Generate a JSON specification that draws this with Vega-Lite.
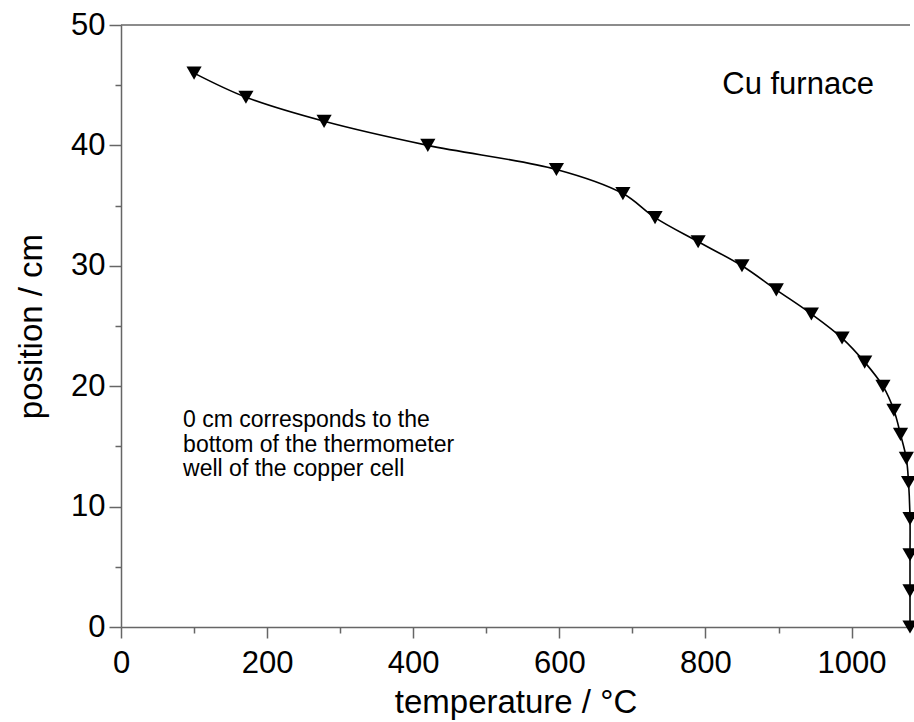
{
  "$schema": "https://vega.github.io/schema/vega-lite/v6.json",
  "width": 789,
  "height": 602,
  "autosize": {"type": "none"},
  "padding": {"left": 121, "top": 25, "right": 4, "bottom": 95},
  "background": "white",
  "config": {
    "view": {"stroke": null},
    "font": "Liberation Sans",
    "axis": {
      "grid": false,
      "domainColor": "#666666",
      "tickColor": "#666666",
      "domainWidth": 1.5,
      "tickWidth": 1.5,
      "labelColor": "black",
      "labelFont": "Liberation Sans",
      "labelFontSize": 31,
      "titleFont": "Liberation Sans",
      "titleFontSize": 33,
      "titleFontWeight": "normal",
      "titleColor": "black",
      "labelFlush": false,
      "labelOverlap": false
    }
  },
  "datasets": {
    "profile": [
      {"temperature": 100, "position": 46},
      {"temperature": 171, "position": 44},
      {"temperature": 278, "position": 42},
      {"temperature": 420, "position": 40},
      {"temperature": 596, "position": 38},
      {"temperature": 687, "position": 36},
      {"temperature": 731, "position": 34},
      {"temperature": 790, "position": 32},
      {"temperature": 850, "position": 30},
      {"temperature": 897, "position": 28},
      {"temperature": 945, "position": 26},
      {"temperature": 987, "position": 24},
      {"temperature": 1018, "position": 22},
      {"temperature": 1043, "position": 20},
      {"temperature": 1058, "position": 18},
      {"temperature": 1067, "position": 16},
      {"temperature": 1075, "position": 14},
      {"temperature": 1078, "position": 12},
      {"temperature": 1080, "position": 9},
      {"temperature": 1080, "position": 6},
      {"temperature": 1080, "position": 3},
      {"temperature": 1080, "position": 0}
    ],
    "notes": [
      {"temperature": 823, "position": 44.3, "label": ["Cu furnace"], "kind": "big"},
      {"temperature": 85, "position": 16.6, "label": ["0 cm corresponds to the", "bottom of the thermometer", "well of the copper cell"], "kind": "small"}
    ],
    "frame": [{"position": 50}]
  },
  "layer": [
    {
      "data": {"name": "frame"},
      "mark": {"type": "rule", "color": "#666666", "strokeWidth": 1.5},
      "encoding": {
        "y": {"field": "position", "type": "quantitative"}
      }
    },
    {
      "data": {"name": "profile"},
      "mark": {"type": "line", "interpolate": "catmull-rom", "color": "black", "strokeWidth": 1.6},
      "encoding": {
        "x": {
          "field": "temperature", "type": "quantitative",
          "scale": {"domain": [0, 1080], "nice": false, "zero": false},
          "axis": {
            "title": "temperature / °C",
            "format": "d",
            "values": [0, 100, 200, 300, 400, 500, 600, 700, 800, 900, 1000],
            "labelExpr": "datum.value % 200 === 0 ? datum.label : ''",
            "tickSize": {"condition": {"test": "datum.value % 200 === 0", "value": 11}, "value": 6},
            "labelPadding": 10,
            "titlePadding": 8
          }
        },
        "y": {
          "field": "position", "type": "quantitative",
          "scale": {"domain": [0, 50], "nice": false, "zero": false},
          "axis": {
            "title": "position / cm",
            "values": [0, 5, 10, 15, 20, 25, 30, 35, 40, 45, 50],
            "labelExpr": "datum.value % 10 === 0 ? datum.label : ''",
            "tickSize": {"condition": {"test": "datum.value % 10 === 0", "value": 12}, "value": 6},
            "labelPadding": 4,
            "titlePadding": 22
          }
        },
        "order": {"field": "position", "type": "quantitative", "sort": "descending"}
      }
    },
    {
      "data": {"name": "profile"},
      "mark": {"type": "point", "shape": "triangle-down", "filled": true, "color": "black", "opacity": 1, "size": 230},
      "encoding": {
        "x": {"field": "temperature", "type": "quantitative"},
        "y": {"field": "position", "type": "quantitative"}
      }
    },
    {
      "data": {"name": "notes"},
      "transform": [{"filter": "datum.kind === 'big'"}],
      "mark": {"type": "text", "align": "left", "baseline": "alphabetic", "fontSize": 31, "color": "black", "font": "Liberation Sans"},
      "encoding": {
        "x": {"field": "temperature", "type": "quantitative"},
        "y": {"field": "position", "type": "quantitative"},
        "text": {"field": "label"}
      }
    },
    {
      "data": {"name": "notes"},
      "transform": [{"filter": "datum.kind === 'small'"}],
      "mark": {"type": "text", "align": "left", "baseline": "alphabetic", "fontSize": 23, "lineHeight": 24.5, "color": "black", "font": "Liberation Sans"},
      "encoding": {
        "x": {"field": "temperature", "type": "quantitative"},
        "y": {"field": "position", "type": "quantitative"},
        "text": {"field": "label"}
      }
    }
  ]
}
